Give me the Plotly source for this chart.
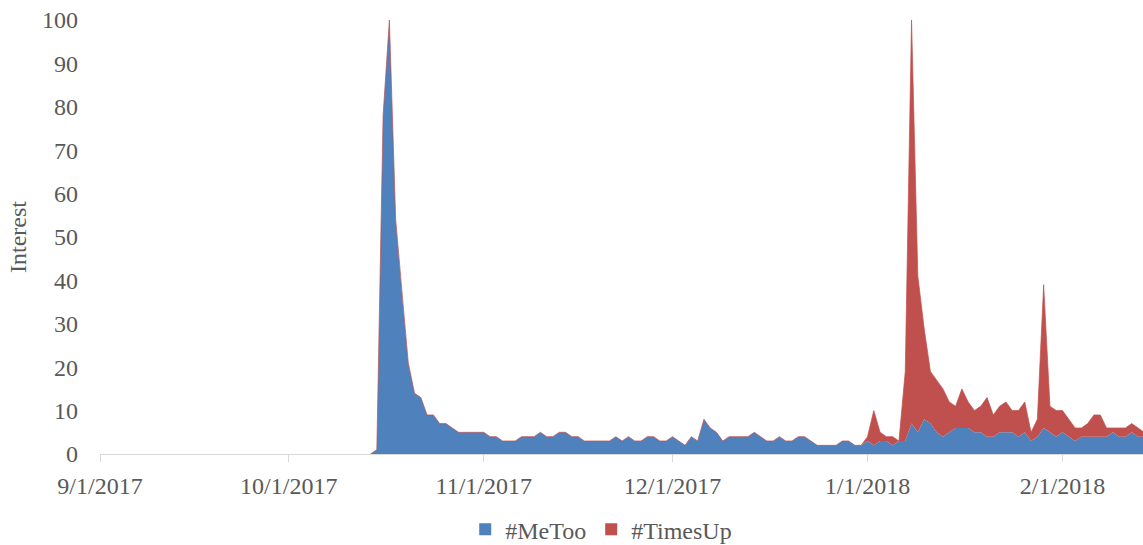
import pandas as pd
import plotly.graph_objects as go

# Daily search interest, one list per month (Sep 2017 - Feb 2018)
metoo_sep = [0] * 30
metoo_oct = [0] * 13 + [0, 1, 78, 100, 54, 37, 21, 14, 13, 9, 9, 7, 7, 6, 5, 5, 5, 5]
metoo_nov = [5, 4, 4, 3, 3, 3, 4, 4, 4, 5, 4, 4, 5, 5, 4, 4, 3, 3, 3, 3,
             3, 4, 3, 4, 3, 3, 4, 4, 3, 3]
metoo_dec = [4, 3, 2, 4, 3, 8, 6, 5, 3, 4, 4, 4, 4, 5, 4, 3, 3, 4, 3, 3,
             4, 4, 3, 2, 2, 2, 2, 3, 3, 2, 2]
metoo_jan = [3, 2, 3, 3, 2, 3, 3, 7, 5, 8, 7, 5, 4, 5, 6, 6, 6, 5, 5, 4,
             4, 5, 5, 5, 4, 5, 3, 4, 6, 5, 4]
metoo_feb = [5, 4, 3, 4, 4, 4, 4, 4, 5, 4, 4, 5, 4, 4]

timesup_sep = [0] * 30
timesup_oct = [0] * 31
timesup_nov = [0] * 30
timesup_dec = [0] * 31
timesup_jan = [1, 8, 2, 1, 2, 0, 16, 93, 36, 21, 12, 12, 11, 7, 5, 9, 6, 5, 6, 9,
               5, 6, 7, 5, 6, 7, 2, 4, 33, 6, 6]
timesup_feb = [5, 4, 3, 2, 3, 5, 5, 2, 1, 2, 2, 2, 2, 1]

metoo = metoo_sep + metoo_oct + metoo_nov + metoo_dec + metoo_jan + metoo_feb
timesup = timesup_sep + timesup_oct + timesup_nov + timesup_dec + timesup_jan + timesup_feb
dates = pd.date_range("2017-09-01", periods=len(metoo), freq="D")

month_ticks = ["2017-09-01", "2017-10-01", "2017-11-01", "2017-12-01", "2018-01-01", "2018-02-01"]
month_labels = ["9/1/2017", "10/1/2017", "11/1/2017", "12/1/2017", "1/1/2018", "2/1/2018"]
y_ticks = list(range(0, 101, 10))

BLUE = "#4F81BD"
RED = "#C0504D"
TEXT = "#595959"
AXIS = "#D9D9D9"
FONT = "Liberation Serif, Times New Roman, serif"
FS = 24

fig = go.Figure()
fig.add_trace(go.Scatter(
    x=dates, y=metoo, name="#MeToo", mode="none", stackgroup="one",
    fillcolor=BLUE, showlegend=False,
))
fig.add_trace(go.Scatter(
    x=dates, y=timesup, name="#TimesUp", mode="none", stackgroup="one",
    fillcolor=RED, showlegend=False,
))

# thin outline along the top of the stack, only where there is any interest
total = [m + t for m, t in zip(metoo, timesup)]
first = next(i for i, v in enumerate(total) if v > 0) - 1
fig.add_trace(go.Scatter(
    x=dates[first:], y=total[first:], mode="lines",
    line=dict(color="rgba(192,80,77,0.7)", width=1),
    showlegend=False, hoverinfo="skip",
))

# square legend keys
for name, color in [("#MeToo", BLUE), ("#TimesUp", RED)]:
    fig.add_trace(go.Scatter(
        x=[None], y=[None], mode="markers", name=name,
        marker=dict(symbol="square", size=12, color=color),
    ))

fig.update_layout(
    width=1143, height=545,
    margin=dict(l=100, r=0, t=20, b=91, autoexpand=False),
    paper_bgcolor="white", plot_bgcolor="white",
    font=dict(family=FONT, size=FS, color=TEXT),
    showlegend=True,
    legend=dict(
        orientation="h", xref="container", x=0.526, xanchor="center",
        yref="container", y=0.028, yanchor="middle",
        font=dict(family=FONT, size=FS, color=TEXT),
        itemwidth=30, traceorder="normal",
    ),
)
fig.update_xaxes(
    type="date",
    range=["2017-09-01", "2018-02-13 19:00"],
    tickvals=month_ticks, ticktext=month_labels,
    showline=True, linecolor=AXIS, linewidth=1,
    ticks="outside", ticklen=7, tickcolor=AXIS,
    showgrid=False, zeroline=False,
    tickfont=dict(family=FONT, size=FS, color=TEXT),
    ticklabelstandoff=3,
)
fig.update_yaxes(
    range=[0, 100],
    tickvals=y_ticks,
    showline=False, showgrid=False, zeroline=False,
    ticks="", tickfont=dict(family=FONT, size=FS, color=TEXT),
    ticklabelstandoff=21,
    title=dict(text="Interest", font=dict(family=FONT, size=FS, color=TEXT), standoff=8),
)

fig.write_html("out.html")
